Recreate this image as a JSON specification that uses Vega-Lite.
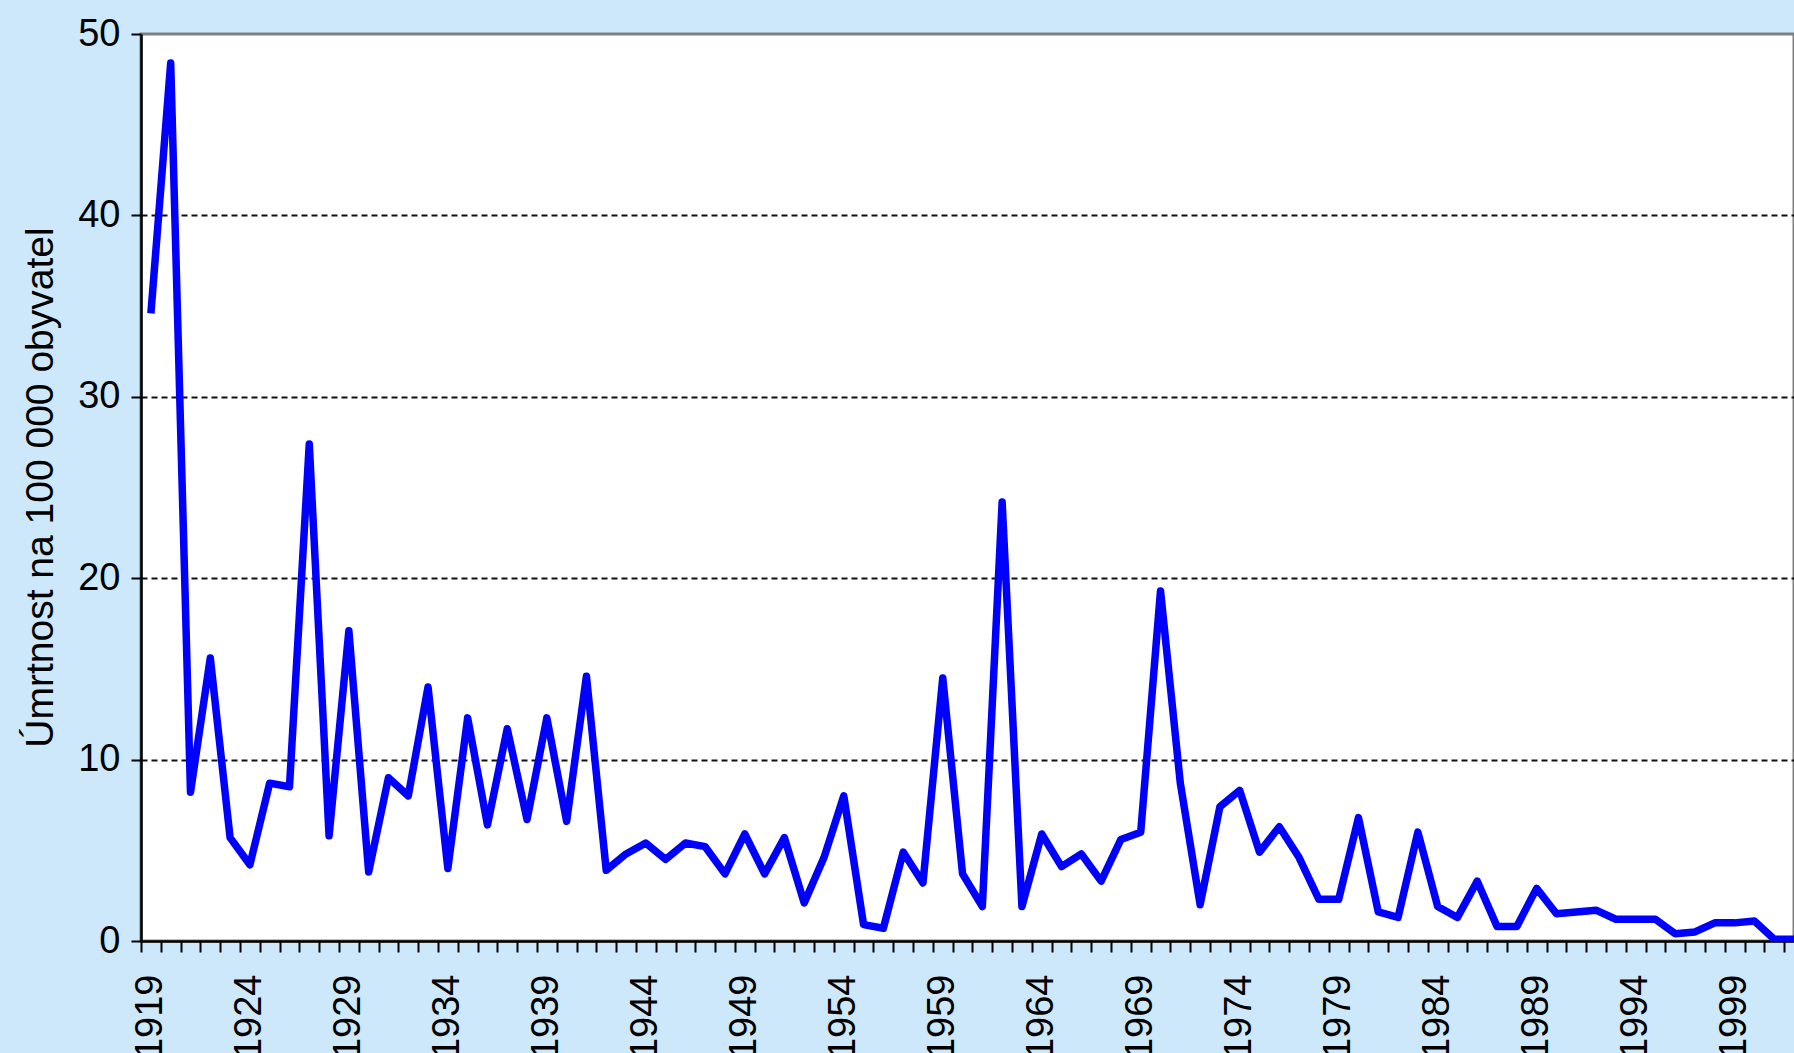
{
  "$schema": "https://vega.github.io/schema/vega-lite/v6.json",
  "width": 1653,
  "height": 907,
  "autosize": {"type": "none"},
  "padding": {"left": 141, "top": 34, "right": 0, "bottom": 112},
  "background": "#CCE8FA",
  "config": {
    "font": "Liberation Sans",
    "view": {"fill": "#FFFFFF", "stroke": "#808080", "strokeWidth": 3}
  },
  "data": {
    "values": [
      {"year": 1919, "value": 34.6}, {"year": 1920, "value": 48.4}, {"year": 1921, "value": 8.2},
      {"year": 1922, "value": 15.6}, {"year": 1923, "value": 5.7}, {"year": 1924, "value": 4.2},
      {"year": 1925, "value": 8.7}, {"year": 1926, "value": 8.5}, {"year": 1927, "value": 27.4},
      {"year": 1928, "value": 5.8}, {"year": 1929, "value": 17.1}, {"year": 1930, "value": 3.8},
      {"year": 1931, "value": 9.0}, {"year": 1932, "value": 8.0}, {"year": 1933, "value": 14.0},
      {"year": 1934, "value": 4.0}, {"year": 1935, "value": 12.3}, {"year": 1936, "value": 6.4},
      {"year": 1937, "value": 11.7}, {"year": 1938, "value": 6.7}, {"year": 1939, "value": 12.3},
      {"year": 1940, "value": 6.6}, {"year": 1941, "value": 14.6}, {"year": 1942, "value": 3.9},
      {"year": 1943, "value": 4.8}, {"year": 1944, "value": 5.4}, {"year": 1945, "value": 4.5},
      {"year": 1946, "value": 5.4}, {"year": 1947, "value": 5.2}, {"year": 1948, "value": 3.7},
      {"year": 1949, "value": 5.9}, {"year": 1950, "value": 3.7}, {"year": 1951, "value": 5.7},
      {"year": 1952, "value": 2.1}, {"year": 1953, "value": 4.6}, {"year": 1954, "value": 8.0},
      {"year": 1955, "value": 0.9}, {"year": 1956, "value": 0.7}, {"year": 1957, "value": 4.9},
      {"year": 1958, "value": 3.2}, {"year": 1959, "value": 14.5}, {"year": 1960, "value": 3.7},
      {"year": 1961, "value": 1.9}, {"year": 1962, "value": 24.2}, {"year": 1963, "value": 1.9},
      {"year": 1964, "value": 5.9}, {"year": 1965, "value": 4.1}, {"year": 1966, "value": 4.8},
      {"year": 1967, "value": 3.3}, {"year": 1968, "value": 5.6}, {"year": 1969, "value": 6.0},
      {"year": 1970, "value": 19.3}, {"year": 1971, "value": 8.7}, {"year": 1972, "value": 2.0},
      {"year": 1973, "value": 7.4}, {"year": 1974, "value": 8.3}, {"year": 1975, "value": 4.9},
      {"year": 1976, "value": 6.3}, {"year": 1977, "value": 4.6}, {"year": 1978, "value": 2.3},
      {"year": 1979, "value": 2.3}, {"year": 1980, "value": 6.8}, {"year": 1981, "value": 1.6},
      {"year": 1982, "value": 1.3}, {"year": 1983, "value": 6.0}, {"year": 1984, "value": 1.9},
      {"year": 1985, "value": 1.3}, {"year": 1986, "value": 3.3}, {"year": 1987, "value": 0.8},
      {"year": 1988, "value": 0.8}, {"year": 1989, "value": 2.9}, {"year": 1990, "value": 1.5},
      {"year": 1991, "value": 1.6}, {"year": 1992, "value": 1.7}, {"year": 1993, "value": 1.2},
      {"year": 1994, "value": 1.2}, {"year": 1995, "value": 1.2}, {"year": 1996, "value": 0.4},
      {"year": 1997, "value": 0.5}, {"year": 1998, "value": 1.0}, {"year": 1999, "value": 1.0},
      {"year": 2000, "value": 1.1}, {"year": 2001, "value": 0.1}, {"year": 2002, "value": 0.1}
    ]
  },
  "encoding": {
    "y": {
      "field": "value",
      "type": "quantitative",
      "scale": {"domain": [0, 50], "nice": false, "zero": true},
      "axis": {
        "values": [0, 10, 20, 30, 40, 50],
        "title": "Úmrtnost na 100 000 obyvatel",
        "titleFontSize": 39,
        "titleFontWeight": "normal",
        "titleColor": "#000000",
        "titleAngle": 270,
        "titleAlign": "center",
        "titleBaseline": "alphabetic",
        "titleX": -89,
        "titleY": 453,
        "labelFontSize": 38,
        "labelColor": "#000000",
        "labelPadding": 11,
        "tickSize": 10,
        "tickWidth": 2,
        "tickColor": "#000000",
        "domainColor": "#000000",
        "domainWidth": 2.5,
        "grid": true,
        "gridColor": "#111111",
        "gridWidth": 2,
        "gridDash": [6, 4],
        "gridOpacity": {"condition": {"test": "datum.value === 0 || datum.value === 50", "value": 0}, "value": 1}
      }
    }
  },
  "layer": [
    {
      "mark": {"type": "line", "color": "#0000FF", "strokeWidth": 7.5, "strokeJoin": "round", "clip": true},
      "encoding": {
        "x": {
          "field": "year",
          "type": "quantitative",
          "scale": {"domain": [1918.5, 2002], "nice": false, "zero": false},
          "axis": {
            "orient": "bottom",
            "title": null,
            "values": [1919, 1924, 1929, 1934, 1939, 1944, 1949, 1954, 1959, 1964, 1969, 1974, 1979, 1984, 1989, 1994, 1999],
            "format": "d",
            "labelAngle": 270,
            "labelFontSize": 38,
            "labelColor": "#000000",
            "labelPadding": 33,
            "labelFlush": false,
            "labelOverlap": false,
            "labelBound": false,
            "ticks": false,
            "tickSize": 0,
            "domain": false,
            "grid": false
          }
        }
      }
    },
    {
      "mark": {"type": "line", "opacity": 0, "clip": true},
      "encoding": {
        "x": {
          "field": "year",
          "type": "quantitative",
          "scale": {"domain": [1918.5, 2002], "nice": false, "zero": false},
          "axis": {
            "orient": "bottom",
            "title": null,
            "values": [1918.5, 1919.5, 1920.5, 1921.5, 1922.5, 1923.5, 1924.5, 1925.5, 1926.5, 1927.5, 1928.5, 1929.5, 1930.5, 1931.5, 1932.5, 1933.5, 1934.5, 1935.5, 1936.5, 1937.5, 1938.5, 1939.5, 1940.5, 1941.5, 1942.5, 1943.5, 1944.5, 1945.5, 1946.5, 1947.5, 1948.5, 1949.5, 1950.5, 1951.5, 1952.5, 1953.5, 1954.5, 1955.5, 1956.5, 1957.5, 1958.5, 1959.5, 1960.5, 1961.5, 1962.5, 1963.5, 1964.5, 1965.5, 1966.5, 1967.5, 1968.5, 1969.5, 1970.5, 1971.5, 1972.5, 1973.5, 1974.5, 1975.5, 1976.5, 1977.5, 1978.5, 1979.5, 1980.5, 1981.5, 1982.5, 1983.5, 1984.5, 1985.5, 1986.5, 1987.5, 1988.5, 1989.5, 1990.5, 1991.5, 1992.5, 1993.5, 1994.5, 1995.5, 1996.5, 1997.5, 1998.5, 1999.5, 2000.5, 2001.5],
            "labels": false,
            "ticks": true,
            "tickSize": 11,
            "tickWidth": 2,
            "tickColor": "#000000",
            "domain": true,
            "domainColor": "#000000",
            "domainWidth": 2.5,
            "grid": false
          }
        }
      }
    }
  ],
  "resolve": {"axis": {"x": "independent"}}
}
